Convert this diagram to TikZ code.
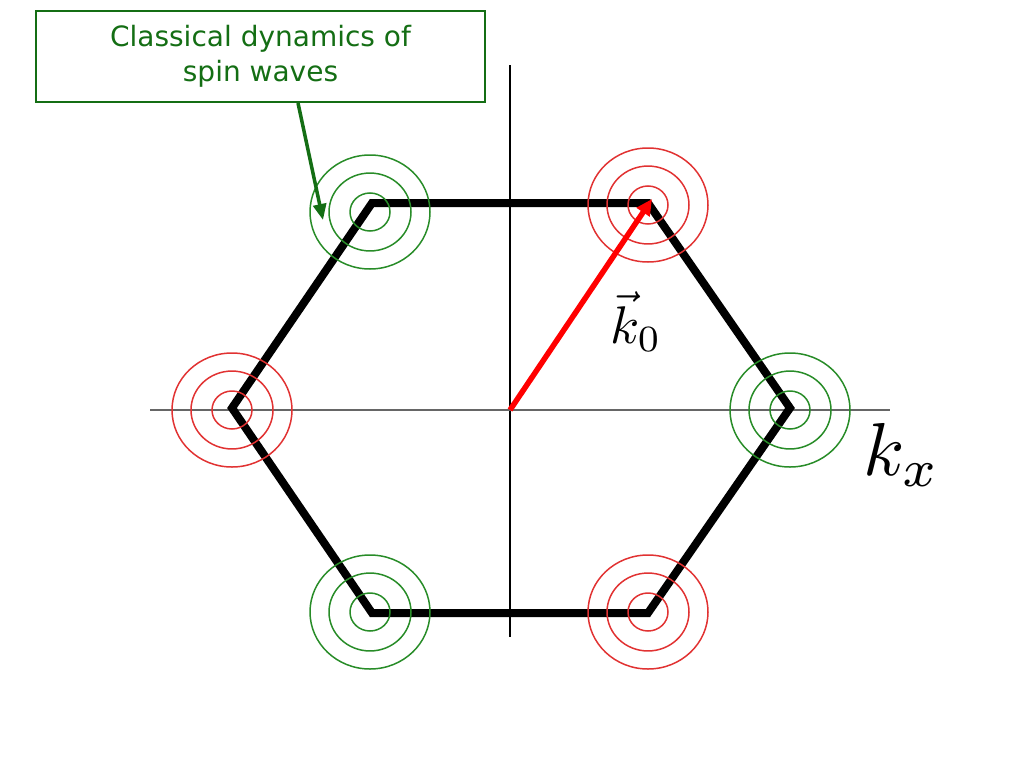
\documentclass[tikz,border=0pt]{standalone}
\usepackage{graphicx}
\usepackage{fontspec}
\newfontfamily\dv{DejaVu Sans}
\usetikzlibrary{arrows.meta}
\definecolor{dg}{RGB}{20,110,20}
\definecolor{gc}{RGB}{40,140,40}
\definecolor{rc}{RGB}{225,50,50}
\begin{document}
\begin{tikzpicture}[x=1pt,y=-1pt,
  rings/.style={line width=1.5pt},
  hexa/.style={line width=8pt,line join=miter}]
\useasboundingbox (0,0) rectangle (1024,768);
\draw[line width=2pt] (510,65) -- (510,637);
\draw[line width=2pt,gray!80!black] (150,410) -- (890,410);
\coordinate (a) at (372,203);\coordinate (b) at (648,203);\coordinate (c) at (790,408);
\coordinate (d) at (648,613);\coordinate (e) at (372,613);\coordinate (f) at (232,408);
\draw[hexa] (a)--(b)--(c)--(d)--(e)--(f)--cycle;
\foreach \p/\c in {{(370,212)}/gc,{(790,410)}/gc,{(370,612)}/gc,{(648,205)}/rc,{(232,410)}/rc,{(648,612)}/rc}{
  \foreach \r in {60,41,20}{\draw[rings,\c] \p ellipse[x radius=\r,y radius=0.95*\r];}}
\coordinate (o) at (510,410);
\draw[red,line width=5.5pt,-{Triangle[length=16pt,width=15pt]}] (o) -- (652,199);
\node (k0) at (636,322) {\scalebox{5.3}{$\vec k_0$}};
\node (kx) at (902,455) {\scalebox{7.5}{$k_x$}};
\node[draw=dg,line width=2.5pt,text=dg,font=\dv\fontsize{28}{35}\selectfont,align=center,
  minimum width=449pt,minimum height=91pt] (box) at (260.5,56.5) {Classical dynamics of\\spin waves};
\coordinate (t) at (323,220);
\draw[dg,line width=3.5pt,-{Triangle[length=16pt,width=13pt]}] (298,103) -- (t);
\end{tikzpicture}
\end{document}
